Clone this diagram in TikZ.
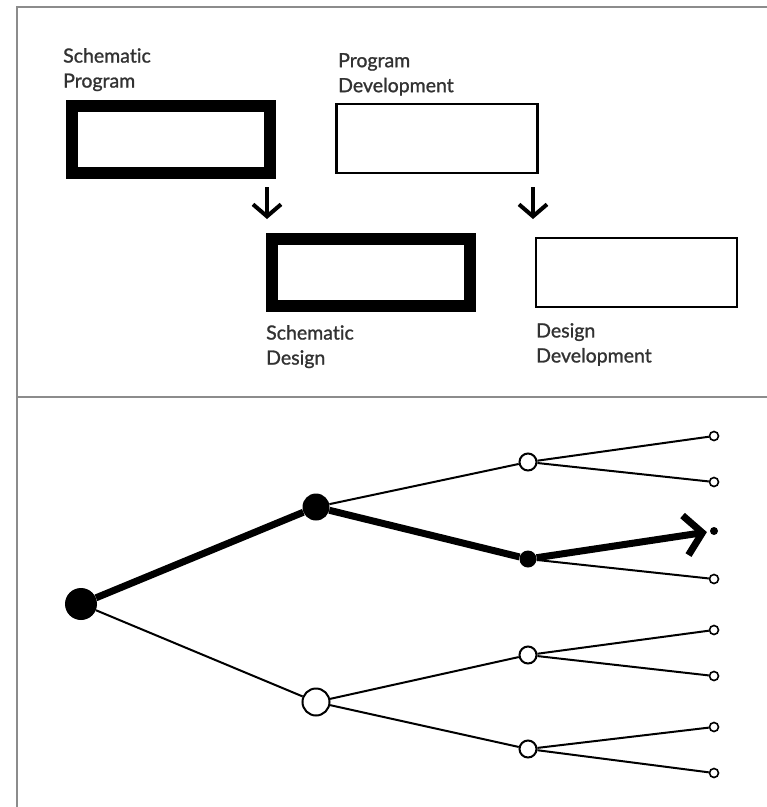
\documentclass[tikz,border=0pt]{standalone}
\usepackage{fontspec}
\setmainfont{Lato}[Ligatures=NoCommon]
\newfontfamily\capfont{Lato}[Ligatures=NoCommon, FakeBold=1.2]
\usetikzlibrary{arrows.meta}

\definecolor{framegray}{RGB}{140,140,140}
\definecolor{labelgray}{RGB}{50,50,50}

\tikzset{
  heavybox/.style={draw=black, line width=12pt, minimum width=198pt, minimum height=67pt, inner sep=0pt},
  lightbox/.style={draw=black, line width=2.5pt, minimum width=201pt, minimum height=69pt, inner sep=0pt},
  caption/.style={anchor=north west, inner sep=0pt, align=left, text=labelgray,
    font=\capfont\fontsize{19.5}{25}\selectfont},
  stagearrow/.style={line width=4pt, -{Straight Barb[length=12pt, width=28pt]}},
  frameline/.style={draw=framegray, line width=2pt},
  bigdot/.style={circle, fill=black, inner sep=0pt, minimum size=32pt},
  middot/.style={circle, fill=black, inner sep=0pt, minimum size=27pt},
  midring/.style={circle, draw=black, fill=white, line width=2pt, inner sep=0pt, minimum size=27pt},
  smalldot/.style={circle, fill=black, inner sep=0pt, minimum size=17pt},
  smallring/.style={circle, draw=black, fill=white, line width=2pt, inner sep=0pt, minimum size=17pt},
  tinyring/.style={circle, draw=black, fill=white, line width=1.6pt, inner sep=0pt, minimum size=9pt},
  tinydot/.style={circle, fill=black, inner sep=0pt, minimum size=8pt},
  thinedge/.style={line width=2pt},
  heavyedge/.style={line width=7pt},
}

\begin{document}
\begin{tikzpicture}[x=1pt, y=-1pt]
  \useasboundingbox (0,0) rectangle (767,807);

  % frame: left edge, top edge, divider between the two panels
  \coordinate (fTL) at (17,7);
  \coordinate (fTR) at (767,7);
  \coordinate (fBL) at (17,807);
  \coordinate (dL) at (17,397);
  \coordinate (dR) at (767,397);
  \draw[frameline] (fBL) -- (fTL) -- (fTR);
  \draw[frameline] (dL) -- (dR);

  % ---------- upper panel: four stages ----------
  \node[heavybox] (sprog) at (171,139) {};
  \node[lightbox] (pdev)  at (437,138.5) {};
  \node[heavybox] (sdes)  at (370.5,272) {};
  \node[lightbox] (ddev)  at (636.5,272.5) {};

  \node[caption] (sprogtxt) at (63,48)  {Schematic\\Program};
  \node[caption] (pdevtxt)  at (338,53) {Program\\Development};
  \node[caption] (sdestxt)  at (266,325) {Schematic\\Design};
  \node[caption] (ddevtxt)  at (536,323) {Design\\Development};

  \coordinate (a1s) at (267,187);
  \coordinate (a1e) at (267,219);
  \coordinate (a2s) at (533,187);
  \coordinate (a2e) at (533,219);
  \draw[stagearrow] (a1s) -- (a1e);
  \draw[stagearrow] (a2s) -- (a2e);

  % ---------- lower panel: decision tree ----------
  \node[bigdot]   (root) at (81,604) {};
  \node[middot]   (u)    at (316,507) {};
  \node[midring]  (l)    at (316,702) {};

  \node[smallring] (ua) at (528,462) {};
  \node[smalldot]  (ub) at (528,559) {};
  \node[smallring] (la) at (528,655) {};
  \node[smallring] (lb) at (528,749) {};

  \node[tinyring] (t1) at (714,436) {};
  \node[tinyring] (t2) at (714,482) {};
  \node[tinydot]  (t3) at (714,531) {};
  \node[tinyring] (t4) at (714,579) {};
  \node[tinyring] (t5) at (714,630) {};
  \node[tinyring] (t6) at (714,676) {};
  \node[tinyring] (t7) at (714,727) {};
  \node[tinyring] (t8) at (714,773) {};

  \draw[heavyedge] (root) -- (u);
  \draw[heavyedge] (u) -- (ub);
  \draw[heavyedge, -{Straight Barb[length=17pt, width=40pt]}, shorten >=3pt] (ub) -- (t3);

  \draw[thinedge] (root) -- (l);
  \draw[thinedge] (u) -- (ua);
  \draw[thinedge] (l) -- (la);
  \draw[thinedge] (l) -- (lb);
  \draw[thinedge] (ua) -- (t1);
  \draw[thinedge] (ua) -- (t2);
  \draw[thinedge] (ub) -- (t4);
  \draw[thinedge] (la) -- (t5);
  \draw[thinedge] (la) -- (t6);
  \draw[thinedge] (lb) -- (t7);
  \draw[thinedge] (lb) -- (t8);
\end{tikzpicture}
\end{document}
